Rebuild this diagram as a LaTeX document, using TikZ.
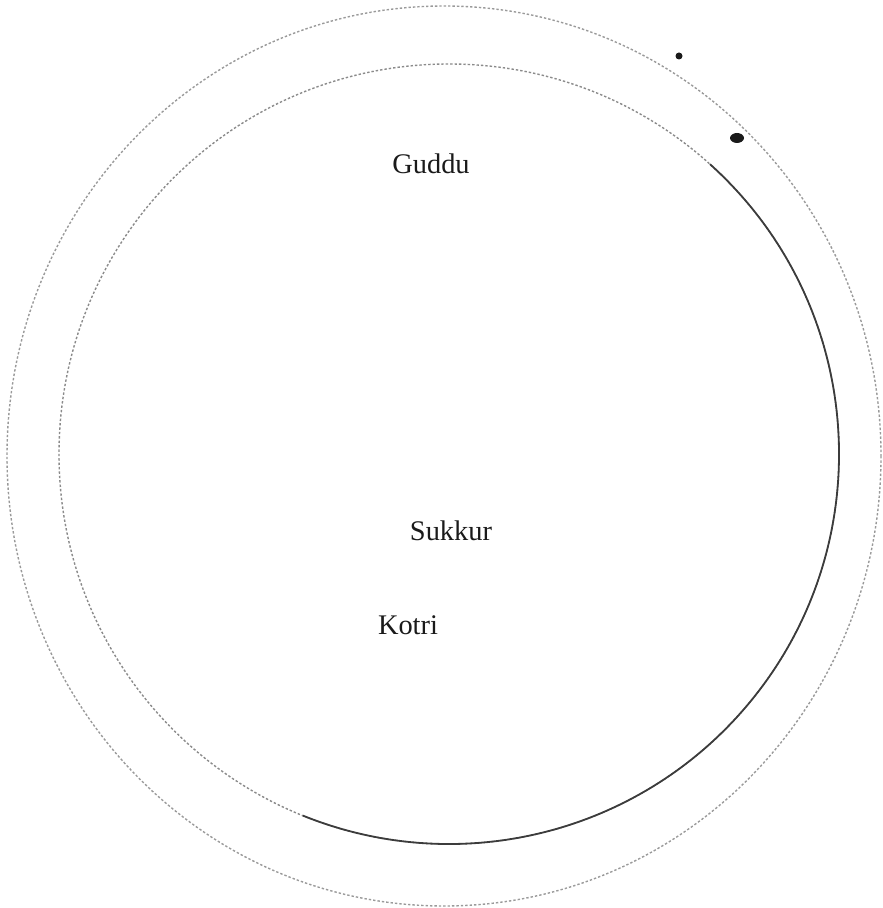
\documentclass[tikz,border=0pt]{standalone}
\usepackage{fontspec}
\setmainfont{Liberation Serif}
\usetikzlibrary{positioning}
\definecolor{ink}{HTML}{1A1A1A}
\definecolor{faint}{HTML}{9A9A9A}
\tikzset{
  place/.style={font=\fontsize{14.2}{17}\selectfont,text=ink,inner sep=0pt},
  ring/.style={draw=faint,line width=0.7pt,dash pattern=on 1.2pt off 1pt},
  bank/.style={draw=ink!85,line width=0.9pt},
  spot/.style={fill=ink,draw=none},
}

\begin{document}
\begin{tikzpicture}[x=0.5pt,y=-0.5pt]
\useasboundingbox (0,0) rectangle (882,908);
% outer and inner rings
\draw[ring] (444,456) ellipse [x radius=437,y radius=450];
\draw[ring,draw=faint!90!black] (449,454) circle [radius=390];
\draw[bank] (449,454) ++(-48:390) arc [start angle=-48,end angle=112,radius=390];
% marks near the top
\fill[spot] (679,56) circle [radius=3.5];
\fill[spot] (737,138) ellipse [x radius=7,y radius=5];
% places
\node[place] (guddu) at (431,164) {Guddu};
\node[place] (sukkur) at (451,531) {Sukkur};
\node[place] (kotri) at (408,625) {Kotri};
\end{tikzpicture}
\end{document}
